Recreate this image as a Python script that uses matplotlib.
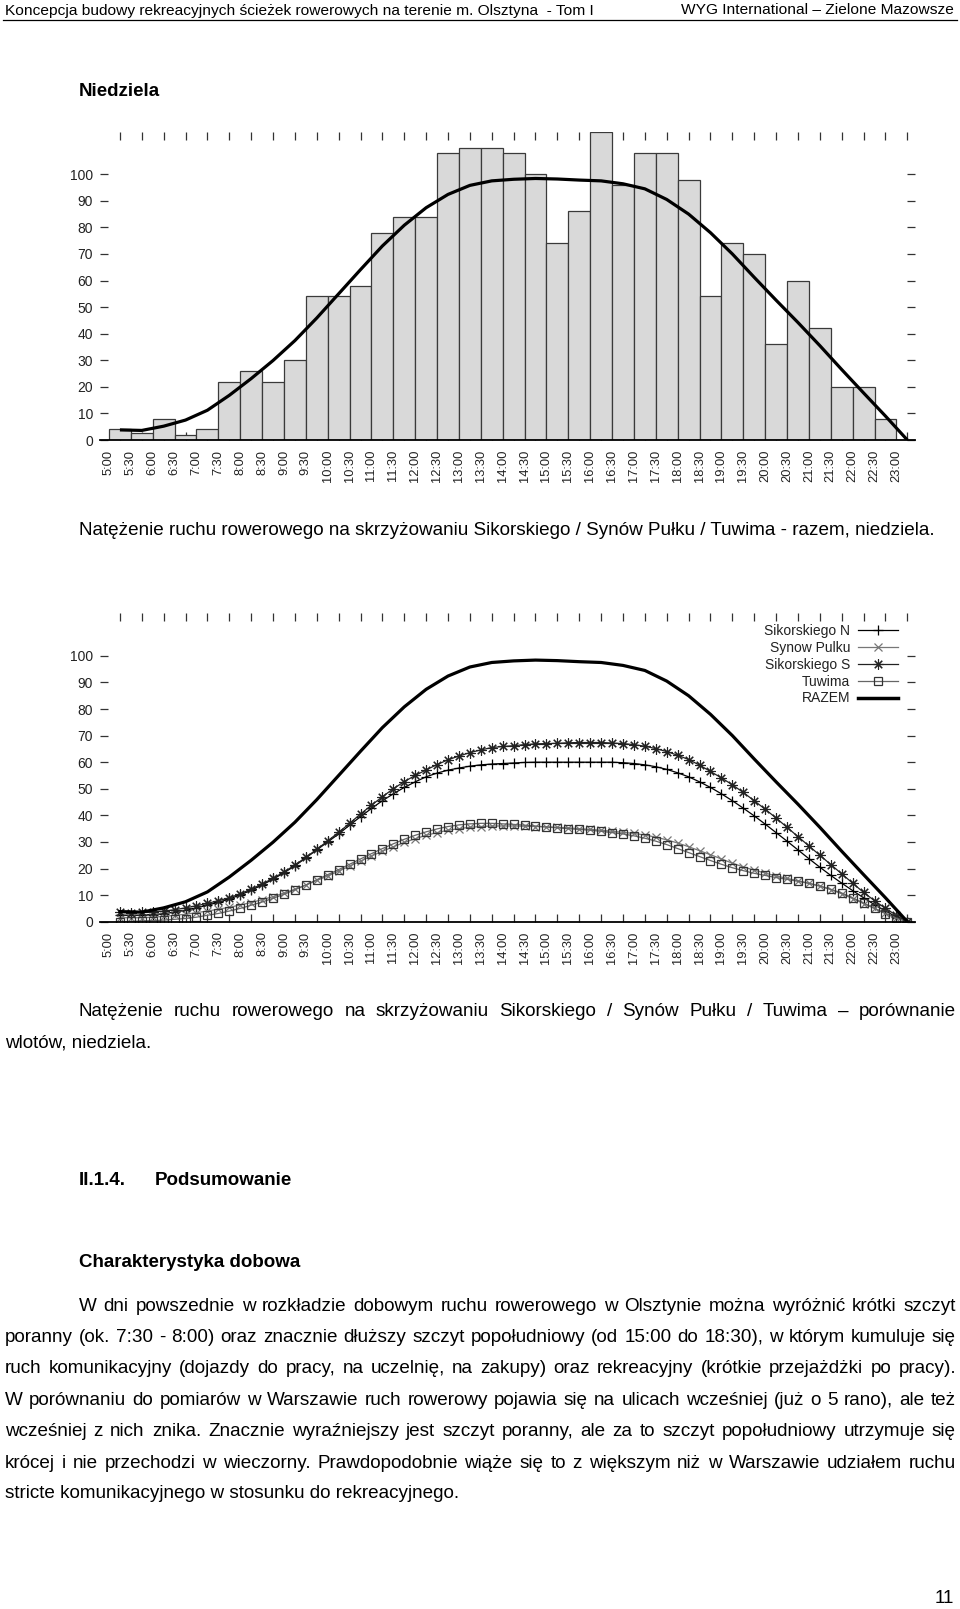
import numpy as np
import matplotlib
matplotlib.use('Agg')
import matplotlib.pyplot as plt
from matplotlib.font_manager import FontProperties
from matplotlib.lines import Line2D

# --- data ---------------------------------------------------------------
TIME_LABELS = ['5:00', '5:30', '6:00', '6:30', '7:00', '7:30', '8:00', '8:30',
               '9:00', '9:30', '10:00', '10:30', '11:00', '11:30', '12:00',
               '12:30', '13:00', '13:30', '14:00', '14:30', '15:00', '15:30',
               '16:00', '16:30', '17:00', '17:30', '18:00', '18:30', '19:00',
               '19:30', '20:00', '20:30', '21:00', '21:30', '22:00', '22:30',
               '23:00']

# bars: 30-minute intervals 5:00-23:00
BAR_VALUES = [4, 2.5, 8, 2, 4, 22, 26, 22, 30, 54, 54, 58, 78, 84, 84, 108,
              110, 110, 108, 100, 74, 86, 116, 96, 108, 108, 98, 54, 74, 70,
              36, 60, 42, 20, 20, 8]

# smoothed total, read at interval centres
RAZEM = [3.8, 3.6, 5.2, 7.5, 11.2, 16.8, 23.1, 29.9, 37.4, 45.9, 55.0, 64.1,
         73.0, 80.8, 87.4, 92.4, 95.8, 97.5, 98.1, 98.4, 98.2, 97.8, 97.5,
         96.4, 94.5, 90.5, 85.0, 78.0, 70.0, 61.2, 52.6, 44.2, 35.5, 26.5,
         17.7, 9.0, 0.0]

# inlets, read every 15 minutes
SIK_N = [2.5, 2.4, 2.5, 2.7, 3.0, 3.6, 4.3, 5.2, 6.2, 7.3, 8.5, 10.1, 11.8,
         13.8, 16.0, 18.4, 21.0, 24.0, 27.0, 30.0, 33.0, 36.3, 39.5, 42.6,
         45.5, 48.1, 50.5, 52.6, 54.5, 55.9, 57.0, 57.8, 58.5, 59.0, 59.3,
         59.5, 59.7, 59.9, 60.0, 60.0, 60.0, 60.0, 60.0, 60.0, 60.0, 60.0,
         59.8, 59.5, 59.0, 58.3, 57.3, 56.0, 54.5, 52.6, 50.5, 48.1, 45.5,
         42.7, 39.8, 36.7, 33.5, 30.3, 27.0, 23.7, 20.5, 17.4, 14.5, 11.7,
         9.0, 6.4, 4.0, 1.8, 0.0]
SYNOW = [1.5, 1.5, 1.5, 1.7, 2.0, 2.4, 2.8, 3.4, 4.0, 4.7, 5.4, 6.3, 7.2,
         8.3, 9.4, 10.8, 12.2, 13.8, 15.5, 17.2, 19.0, 20.9, 22.8, 24.7,
         26.5, 28.2, 29.8, 31.2, 32.5, 33.5, 34.4, 35.0, 35.5, 35.8, 36.0,
         36.0, 36.0, 35.9, 35.8, 35.7, 35.5, 35.3, 35.0, 34.7, 34.4, 34.0,
         33.6, 33.2, 32.6, 31.8, 30.8, 29.6, 28.2, 26.7, 25.2, 23.6, 22.0,
         20.6, 19.4, 18.3, 17.2, 16.3, 15.4, 14.5, 13.4, 12.1, 10.5, 8.7,
         6.8, 5.0, 3.2, 1.5, 0.0]
SIK_S = [3.5, 3.4, 3.5, 3.7, 4.0, 4.5, 5.2, 6.0, 6.9, 7.9, 9.0, 10.5, 12.2,
         14.2, 16.3, 18.7, 21.3, 24.2, 27.2, 30.4, 33.6, 37.0, 40.5, 43.8,
         47.0, 50.0, 52.7, 55.0, 57.1, 59.1, 60.9, 62.3, 63.6, 64.6, 65.5,
         65.9, 66.2, 66.6, 66.9, 67.0, 67.1, 67.3, 67.4, 67.4, 67.4, 67.2,
         67.0, 66.6, 66.0, 65.1, 64.0, 62.6, 61.0, 58.9, 56.5, 54.1, 51.5,
         48.6, 45.5, 42.3, 39.0, 35.5, 32.0, 28.5, 25.0, 21.5, 18.0, 14.5,
         11.0, 7.9, 5.0, 2.4, 0.0]
TUWIMA = [0.0, 0.1, 0.3, 0.4, 0.6, 0.9, 1.2, 1.7, 2.4, 3.1, 4.0, 5.0, 6.2,
          7.4, 8.8, 10.3, 12.0, 13.8, 15.8, 17.7, 19.6, 21.6, 23.6, 25.6,
          27.5, 29.3, 31.0, 32.5, 33.8, 34.9, 35.8, 36.4, 36.8, 37.0, 37.0,
          36.8, 36.6, 36.3, 36.0, 35.6, 35.3, 35.0, 34.7, 34.4, 34.0, 33.5,
          33.0, 32.3, 31.4, 30.3, 29.0, 27.5, 26.0, 24.5, 23.0, 21.6, 20.3,
          19.2, 18.2, 17.4, 16.6, 15.9, 15.2, 14.4, 13.4, 12.2, 10.8, 9.0,
          7.0, 5.0, 3.0, 1.3, 0.0]

LEGEND_LABELS = ['Sikorskiego N', 'Synow Pulku', 'Sikorskiego S', 'Tuwima', 'RAZEM']

HEADER_LEFT = 'Koncepcja budowy rekreacyjnych ścieżek rowerowych na terenie m. Olsztyna  - Tom I'
HEADER_RIGHT = 'WYG International – Zielone Mazowsze'
CAPTION_1 = 'Natężenie ruchu rowerowego na skrzyżowaniu Sikorskiego / Synów Pułku / Tuwima - razem, niedziela.'
CAPTION_2 = ['Natężenie ruchu rowerowego na skrzyżowaniu Sikorskiego / Synów Pułku / Tuwima – porównanie',
             'wlotów, niedziela.']
PARAGRAPH = [
    'W dni powszednie w rozkładzie dobowym ruchu rowerowego w Olsztynie można wyróżnić krótki szczyt',
    'poranny (ok. 7:30 - 8:00) oraz znacznie dłuższy szczyt popołudniowy (od 15:00 do 18:30), w którym kumuluje się',
    'ruch komunikacyjny (dojazdy do pracy, na uczelnię, na zakupy) oraz rekreacyjny (krótkie przejażdżki po pracy).',
    'W porównaniu do pomiarów w Warszawie ruch rowerowy pojawia się na ulicach wcześniej (już o 5 rano), ale też',
    'wcześniej z nich znika. Znacznie wyraźniejszy jest szczyt poranny, ale za to szczyt popołudniowy utrzymuje się',
    'krócej i nie przechodzi w wieczorny. Prawdopodobnie wiąże się to z większym niż w Warszawie udziałem ruchu',
    'stricte komunikacyjnego w stosunku do rekreacyjnego.',
]

W, H = 960, 1609
plt.rcParams['font.family'] = ['Liberation Sans', 'DejaVu Sans']
DOC_FAMILY = ['Liberation Sans Narrow', 'Liberation Sans', 'DejaVu Sans']

fig = plt.figure(figsize=(W / 100, H / 100), dpi=100)
fig.patch.set_facecolor('white')


def fx(x):
    return x / W


def fy(y):
    return 1 - y / H


def setup_axes(ax):
    n = len(TIME_LABELS)
    ax.set_xlim(-0.41, n - 0.15)
    ax.set_ylim(0, 116)
    for s in ['top', 'right', 'left']:
        ax.spines[s].set_visible(False)
    ax.spines['bottom'].set_linewidth(1.3)
    ax.set_xticks(np.arange(n))
    ax.set_xticklabels(TIME_LABELS, rotation=90, fontsize=9.3, color='#222')
    ax.set_xticks(np.arange(n) + 0.5, minor=True)
    ax.tick_params(axis='x', which='major', length=0, pad=7)
    ax.tick_params(axis='x', which='minor', direction='in', length=5.8,
                   width=0.9, top=True, bottom=True, color='#333')
    ax.set_yticks(np.arange(0, 101, 10))
    ax.tick_params(axis='y', direction='in', length=5.8, width=0.9,
                   left=True, right=True, labelsize=10, pad=5,
                   color='#333', labelcolor='#222')


# --- chart 1: histogram with smoothed total ------------------------------
ax1 = fig.add_axes([fx(100), fy(440), 815 / W, 308.3 / H])
setup_axes(ax1)
ax1.set_axisbelow(True)
ax1.bar(np.arange(len(BAR_VALUES)), BAR_VALUES, width=1, align='edge',
        color='#d9d9d9', edgecolor='#3a3a3a', linewidth=0.9, zorder=2)
ax1.plot(np.arange(len(RAZEM)) + 0.5, RAZEM, color='black', lw=2.3,
         solid_capstyle='butt', zorder=3)

# --- chart 2: comparison of inlets ---------------------------------------
ax2 = fig.add_axes([fx(100), fy(921.7), 815 / W, 308.4 / H])
setup_axes(ax2)
xs = np.arange(len(SIK_N)) * 0.5 + 0.5
ax2.plot(xs, SIK_N, color='black', lw=0.9, marker='+', ms=7.5, mew=0.9)
ax2.plot(xs, SYNOW, color='#777777', lw=0.9, marker='x', ms=6, mew=0.9)
ax2.plot(xs, SIK_S, color='#222222', lw=0.9, marker=(8, 2, 0), ms=7.5, mew=0.8)
ax2.plot(xs, TUWIMA, color='#666666', lw=0.9, marker='s', ms=6, mew=0.9,
         mfc='none', mec='#333333')
ax2.plot(np.arange(len(RAZEM)) + 0.5, RAZEM, color='black', lw=2.3)

handles = [
    Line2D([], [], color='black', lw=0.9, marker='+', ms=7.5, mew=0.9),
    Line2D([], [], color='#777777', lw=0.9, marker='x', ms=6, mew=0.9),
    Line2D([], [], color='#222222', lw=0.9, marker=(8, 2, 0), ms=7.5, mew=0.8),
    Line2D([], [], color='#666666', lw=0.9, marker='s', ms=6, mew=0.9,
           mfc='none', mec='#333333'),
    Line2D([], [], color='black', lw=2.5),
]
leg = ax2.legend(handles, LEGEND_LABELS, loc='upper right',
                 bbox_to_anchor=(1 - 17 / 815, 1 - 11 / 308), frameon=False,
                 markerfirst=False, handlelength=2.9, handletextpad=0.55,
                 labelspacing=0.2, fontsize=10, borderpad=0, borderaxespad=0,
                 numpoints=1)
for t in leg.get_texts():
    t.set_color('#222')

# --- page text -----------------------------------------------------------
renderer = fig.canvas.get_renderer()


def text_width(s, prop):
    w, h, d = renderer.get_text_width_height_descent(s, prop, ismath=False)
    return w


def fitted(s, width, weight='normal'):
    p = FontProperties(family=DOC_FAMILY, size=12, weight=weight)
    size = 12 * width / text_width(s, p)
    return FontProperties(family=DOC_FAMILY, size=size, weight=weight)


def put_line(s, x0, x1, y, prop, justify=False):
    if not justify:
        fig.text(fx(x0), fy(y), s, fontproperties=prop, va='baseline', ha='left')
        return
    words = s.split(' ')
    widths = [text_width(w, prop) for w in words]
    gap = (x1 - x0 - sum(widths)) / (len(words) - 1)
    x = x0
    for w, wd in zip(words, widths):
        fig.text(fx(x), fy(y), w, fontproperties=prop, va='baseline', ha='left')
        x += wd + gap


head_prop = fitted(HEADER_LEFT, 588)
body_prop = fitted(CAPTION_1, 859)
bold_prop = fitted('Charakterystyka dobowa', 221, weight='bold')

fig.text(fx(5), fy(14.5), HEADER_LEFT, fontproperties=head_prop, va='baseline')
fig.text(fx(954), fy(14.5), HEADER_RIGHT, fontproperties=head_prop,
         va='baseline', ha='right')
fig.add_artist(Line2D([fx(3), fx(957)], [fy(19.5), fy(19.5)], color='black', lw=0.9))

fig.text(fx(79), fy(96), 'Niedziela', fontproperties=bold_prop, va='baseline')

put_line(CAPTION_1, 79, 938, 535, body_prop)
put_line(CAPTION_2[0], 79, 956, 1016, body_prop, justify=True)
put_line(CAPTION_2[1], 5, 956, 1047, body_prop)

fig.text(fx(79), fy(1185), 'II.1.4.', fontproperties=bold_prop, va='baseline')
fig.text(fx(155), fy(1185), 'Podsumowanie', fontproperties=bold_prop, va='baseline')
fig.text(fx(79), fy(1267), 'Charakterystyka dobowa', fontproperties=bold_prop, va='baseline')

para_y = [1311, 1342, 1373, 1405, 1436, 1467.5, 1498]
for i, (line, y) in enumerate(zip(PARAGRAPH, para_y)):
    x0 = 79 if i == 0 else 5
    put_line(line, x0, 956, y, body_prop, justify=(i < len(PARAGRAPH) - 1))

fig.text(fx(954), fy(1603), '11', fontproperties=body_prop, va='baseline', ha='right')

fig.savefig('out.png', dpi=100, facecolor='white')
